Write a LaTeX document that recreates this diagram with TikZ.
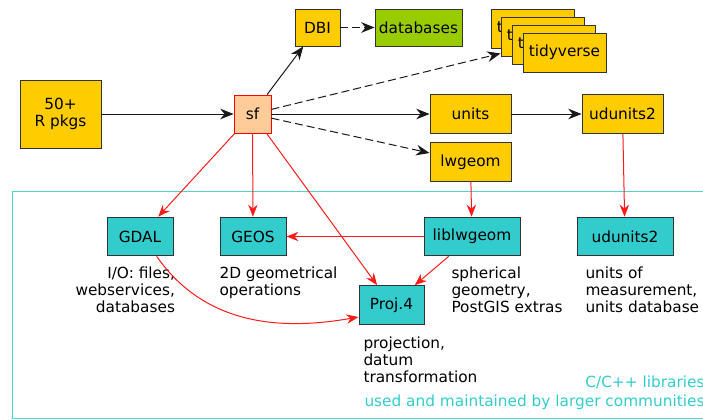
\documentclass[tikz,border=0pt]{standalone}
\usepackage{fontspec}
\setmainfont{DejaVu Sans}
\usetikzlibrary{arrows.meta}
\definecolor{pkgyellow}{HTML}{FFCC00}
\definecolor{dbgreen}{HTML}{99CC00}
\definecolor{libcyan}{HTML}{33CCCC}
\definecolor{sforange}{HTML}{FFCC99}
\definecolor{deplink}{HTML}{FF1A1A}
\begin{document}
\begin{tikzpicture}[x=0.75pt,y=-0.75pt,line width=0.75pt,
		every node/.style={font=\fontsize{11.5}{13}\selectfont},
		pkg/.style={draw=black!80,line width=0.7pt,fill=pkgyellow,minimum height=29pt,inner sep=0pt},
		lib/.style={draw=black!80,line width=0.7pt,fill=libcyan,minimum height=29pt,inner sep=0pt},
		blk/.style={-{Stealth[length=10pt,width=8pt]},black!90},
		rd/.style={-{Stealth[length=9pt,width=7pt]},deplink},
		dsh/.style={dash pattern=on 6pt off 3pt},
		note/.style={inner sep=0pt,align=left}]
	\newcommand{\pxu}{0.75pt}
	\useasboundingbox (0,0) rectangle (703,419);
	% cluster of system libraries
	\draw[libcyan!85,line width=0.7pt] (12,191) rectangle (730,418);
	\node[note,align=right,anchor=south east,text=libcyan,font=\fontsize{11.5}{14.3}\selectfont] (cluster) at (705,410) {C/C++ libraries\\used and maintained by larger communities};
	% R packages
	\node[pkg,minimum width=81*\pxu,minimum height=68*\pxu,align=center] (rpkgs) at (60.5,114) {50+\\R pkgs};
	\node[draw=red,line width=0.7pt,fill=sforange,minimum width=37*\pxu,minimum height=38*\pxu,inner sep=0pt] (sf) at (252.5,114) {sf};
	\node[pkg,minimum width=45*\pxu,minimum height=37*\pxu] (dbi) at (317.5,27.5) {DBI};
	\node[pkg,fill=dbgreen,minimum width=87*\pxu,minimum height=37*\pxu] (databases) at (418.5,27.5) {databases};
	\foreach \i/\x/\y in {1/532.5/28.5,2/542.5/36.5,3/553.5/44.5,4/564.5/52.5}
		\node[pkg,minimum width=83*\pxu,minimum height=39*\pxu] (tidy\i) at (\x,\y) {tidyverse};
	\node[pkg,minimum width=81*\pxu] (units) at (470.5,114) {units};
	\node[pkg,minimum width=81*\pxu] (udunitsr) at (622.5,114) {udunits2};
	\node[pkg,minimum width=81*\pxu] (lwgeom) at (470.5,162) {lwgeom};
	% libraries
	\node[lib,minimum width=66*\pxu] (gdal) at (140,236.5) {GDAL};
	\node[lib,minimum width=66*\pxu] (geos) at (253,236.5) {GEOS};
	\node[lib,minimum width=96*\pxu] (liblwgeom) at (472,236.5) {liblwgeom};
	\node[lib,minimum width=96*\pxu] (udunitsc) at (625,236.5) {udunits2};
	\node[lib,minimum width=65*\pxu] (proj) at (391.5,305) {Proj.4};
	% notes
	\node[note,align=right,anchor=north east] (gdaltxt) at (175.5,266) {I/O: files,\\webservices,\\databases};
	\node[note,anchor=north west] (geostxt) at (219,266) {2D geometrical\\operations};
	\node[note,anchor=north west] (lwgeomtxt) at (451,266) {spherical\\geometry,\\PostGIS extras};
	\node[note,anchor=north west] (udunitstxt) at (585,266) {units of\\measurement,\\units database};
	\node[note,anchor=north west] (projtxt) at (363,336) {projection,\\datum\\transformation};
	% R dependencies
	\draw[blk] (rpkgs) -- (sf);
	\draw[blk] (sf) -- (dbi);
	\draw[blk,dsh] (dbi) -- (databases);
	\draw[blk,dsh] (sf) -- ([yshift=2.25pt]tidy2.south west);
	\draw[blk] (sf) -- (units);
	\draw[blk,dsh] (sf) -- (lwgeom);
	\draw[blk] (units) -- (udunitsr);
	% system dependencies
	\draw[rd] (sf) -- (gdal);
	\draw[rd] (sf) -- (geos);
	\draw[rd] (sf) -- (proj);
	\draw[rd] (lwgeom) -- (liblwgeom);
	\draw[rd] (udunitsr) -- (udunitsc);
	\draw[rd] (liblwgeom) -- (geos);
	\draw[rd] (liblwgeom) -- (proj);
	\draw[rd] (gdal.310) to[out=-55,in=190] (proj.200);
\end{tikzpicture}
\end{document}
